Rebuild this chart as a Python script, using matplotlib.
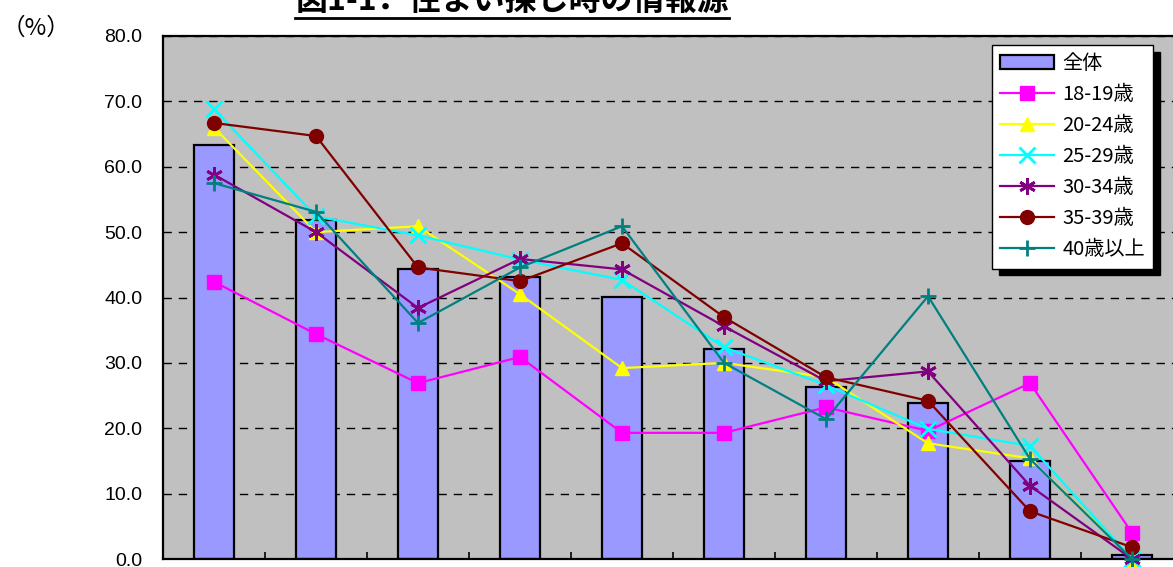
import matplotlib
matplotlib.use("Agg")
import matplotlib.pyplot as plt
from matplotlib.lines import Line2D
from matplotlib.patches import Patch
import numpy as np

plt.rcParams['font.family'] = ['Noto Sans CJK JP', 'DejaVu Sans']

# data
categories = list(range(10))
total = [63.3, 51.8, 44.3, 43.1, 40.1, 32.1, 26.3, 23.9, 15.0, 0.6]
age_labels = ['18-19歳', '20-24歳', '25-29歳', '30-34歳', '35-39歳', '40歳以上']
age_values = [
    [42.4, 34.4, 26.9, 30.9, 19.3, 19.3, 23.2, 19.6, 26.9, 4.0],
    [66.0, 50.0, 50.9, 40.5, 29.2, 30.0, 27.8, 17.7, 15.4, 0.0],
    [68.8, 52.4, 49.5, 45.8, 42.7, 32.4, 26.6, 19.9, 17.3, 0.0],
    [58.8, 50.0, 38.4, 45.9, 44.3, 35.6, 27.2, 28.7, 11.2, 0.0],
    [66.7, 64.7, 44.6, 42.5, 48.3, 37.0, 27.8, 24.2, 7.3, 1.8],
    [57.5, 53.1, 36.1, 44.6, 50.9, 30.0, 21.4, 40.2, 15.3, 0.0],
]
yticks = [0, 10, 20, 30, 40, 50, 60, 70, 80]

colors = ['#FF00FF', '#FFFF00', '#00FFFF', '#800080', '#800000', '#008080']
markers = ['s', '^', 'x', (6, 2, 0), 'o', '+']
msizes = [10, 10, 11, 12, 10, 12]

fig = plt.figure(figsize=(11.73, 5.67), dpi=100)
ax = fig.add_axes([163 / 1173, 1 - 559 / 567, 1020 / 1173, 523 / 567])
ax.set_facecolor('#C0C0C0')

x = np.array(categories)
bars = ax.bar(x, total, width=0.39, color='#9999FF', edgecolor='black', linewidth=1.6, zorder=2)

handles = [Patch(facecolor='#9999FF', edgecolor='black', linewidth=1.6, label='全体')]
for vals, lab, c, m, ms in zip(age_values, age_labels, colors, markers, msizes):
    mew = 2 if m in ('x', '+') or isinstance(m, tuple) else 1
    ln, = ax.plot(x, vals, color=c, marker=m, markersize=ms, markeredgewidth=mew,
                  markerfacecolor=c, markeredgecolor=c, lw=1.6, label=lab, zorder=3,
                  clip_on=False)
    handles.append(ln)

ax.set_xlim(-0.5, 9.5)
ax.set_ylim(0, 80)
ax.set_yticks(yticks)
ax.set_yticklabels([f'{v:.1f}' for v in yticks], fontsize=14, family='Liberation Sans')
ax.tick_params(axis='y', length=0, pad=15)
ax.set_xticks(np.arange(0.5, 9.5, 1))
ax.set_xticklabels([])
ax.tick_params(axis='x', direction='in', length=5, width=1.2)
ax.set_axisbelow(True)
ax.yaxis.grid(True, color='black', linestyle=(0, (6, 5)), linewidth=1)
for s in ax.spines.values():
    s.set_linewidth(1.6)

leg = ax.legend(handles=handles, loc='upper right', bbox_to_anchor=(1153 / 1173, 1 - 45 / 567),
                bbox_transform=fig.transFigure, fontsize=14.5, frameon=True, fancybox=False,
                framealpha=1, edgecolor='black', handlelength=2.7, labelspacing=0.5,
                borderpad=0.4, handletextpad=0.4, borderaxespad=0,
                shadow={'color': 'black', 'alpha': 1, 'ox': 5, 'oy': -5})
leg.get_frame().set_linewidth(1.0)

fig.text(36 / 1173, 1 - 28 / 567, '（%）', fontsize=17, ha='center', va='center')

t = fig.text(512 / 1173, 1 - 1 / 567, '図1-1．住まい探し時の情報源', fontsize=23,
             fontweight='bold', ha='center', va='center')
fig.canvas.draw()
bb = t.get_window_extent().transformed(fig.transFigure.inverted())
fig.add_artist(Line2D([bb.x0, bb.x1], [1 - 18 / 567] * 2, color='black', lw=2,
                      transform=fig.transFigure))

fig.savefig('out.png', dpi=100)
